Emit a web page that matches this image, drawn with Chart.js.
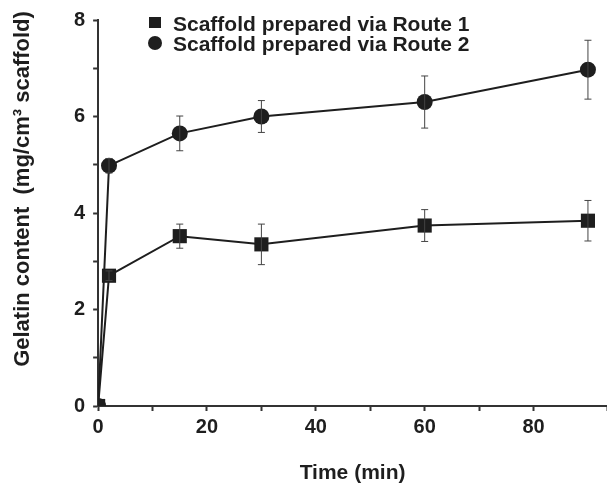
<!DOCTYPE html>
<html>
<head>
<meta charset="utf-8">
<script src="https://cdn.jsdelivr.net/npm/chart.js@4"></script>
<style>
  html, body { margin: 0; padding: 0; background: #fff; overflow: hidden; }
  #wrap { width: 607px; height: 484px; overflow: hidden; }
</style>
</head>
<body>
<div id="wrap"><canvas id="chart" width="617" height="484"></canvas></div>
<script>
// Datos
const times = [0, 2, 15, 30, 60, 90];
const route1 = [0, 2.70, 3.52, 3.35, 3.74, 3.84];
const route1Err = [0, 0.10, 0.25, 0.42, 0.33, 0.42];
const route2 = [0, 4.98, 5.65, 6.00, 6.30, 6.97];
const route2Err = [0, 0.15, 0.36, 0.33, 0.54, 0.61];
const seriesNames = ['Scaffold prepared via Route 1', 'Scaffold prepared via Route 2'];
const yTitle = 'Gelatin content  (mg/cm\u00B3 scaffold)';
const xTitle = 'Time (min)';

const INK = '#1e1e1e';
const FONT = '"Liberation Sans", Arial, sans-serif';

function toPoints(ys) {
    return times.map((t, i) => ({ x: t, y: ys[i] }));
}

// Barras de error
const errorBars = {
    id: 'errorBars',
    afterDatasetsDraw(chart) {
        const ctx = chart.ctx;
        const xs = chart.scales.x, ys = chart.scales.y;
        chart.data.datasets.forEach(ds => {
            ds.errors.forEach((e, i) => {
                if (!e) return;
                const px = xs.getPixelForValue(times[i]);
                const top = ys.getPixelForValue(ds.data[i].y + e);
                const bot = ys.getPixelForValue(ds.data[i].y - e);
                ctx.save();
                ctx.strokeStyle = '#444';
                ctx.lineWidth = 1;
                ctx.beginPath();
                ctx.moveTo(px, top); ctx.lineTo(px, bot);
                ctx.moveTo(px - 3.5, top); ctx.lineTo(px + 3.5, top);
                ctx.moveTo(px - 3.5, bot); ctx.lineTo(px + 3.5, bot);
                ctx.stroke();
                ctx.restore();
            });
        });
    }
};

// Leyenda y título vertical
const extras = {
    id: 'extras',
    afterDraw(chart) {
        const ctx = chart.ctx;
        ctx.save();
        ctx.fillStyle = INK;
        ctx.font = 'bold 21px ' + FONT;
        ctx.textBaseline = 'middle';
        chart.data.datasets.forEach((ds, i) => {
            const cy = 23 + i * 20;
            ctx.beginPath();
            if (ds.pointStyle === 'rect') ctx.rect(149, cy - 6, 12, 11);
            else ctx.arc(155, cy, 7, 0, Math.PI * 2);
            ctx.fill();
            ctx.fillText(ds.label, 173, cy + 2);
        });
        ctx.font = 'bold 22px ' + FONT;
        ctx.translate(23, 189);
        ctx.rotate(-Math.PI / 2);
        ctx.textAlign = 'center';
        ctx.fillText(yTitle, 0, 0);
        ctx.restore();
    }
};

new Chart(document.getElementById('chart').getContext('2d'), {
    type: 'line',
    data: {
        datasets: [
            {
                label: seriesNames[0],
                data: toPoints(route1),
                errors: route1Err,
                borderColor: INK,
                backgroundColor: INK,
                borderWidth: 2,
                pointStyle: 'rect',
                pointRadius: 10,
                pointBorderWidth: 0,
                tension: 0
            },
            {
                label: seriesNames[1],
                data: toPoints(route2),
                errors: route2Err,
                borderColor: INK,
                backgroundColor: INK,
                borderWidth: 2,
                pointStyle: 'circle',
                pointRadius: 8,
                pointBorderWidth: 0,
                tension: 0
            }
        ]
    },
    options: {
        responsive: false,
        animation: false,
        layout: { padding: { left: 66, top: 17, right: 0, bottom: 0 } },
        plugins: {
            legend: { display: false },
            tooltip: { enabled: false }
        },
        scales: {
            x: {
                type: 'linear',
                min: 0,
                max: 93.5,
                border: { color: '#333', width: 2 },
                grid: { drawOnChartArea: false, tickLength: 5, tickColor: '#333', tickWidth: 2 },
                ticks: {
                    stepSize: 10,
                    autoSkip: false,
                    maxRotation: 0,
                    color: INK,
                    font: { family: FONT, size: 20, weight: 'bold' },
                    padding: 4,
                    callback: v => (v % 20 === 0 ? v : '')
                },
                title: {
                    display: true,
                    text: xTitle,
                    color: INK,
                    font: { family: FONT, size: 21, weight: 'bold', lineHeight: 1 },
                    padding: { top: 20, bottom: 0 }
                }
            },
            y: {
                min: 0,
                max: 8,
                border: { color: '#333', width: 2 },
                grid: { drawOnChartArea: false, tickLength: 5, tickColor: '#333', tickWidth: 2 },
                ticks: {
                    stepSize: 1,
                    autoSkip: false,
                    color: INK,
                    font: { family: FONT, size: 20, weight: 'bold' },
                    padding: 8,
                    callback: v => (v % 2 === 0 ? v : '')
                }
            }
        }
    },
    plugins: [errorBars, extras]
});
</script>
</body>
</html>
